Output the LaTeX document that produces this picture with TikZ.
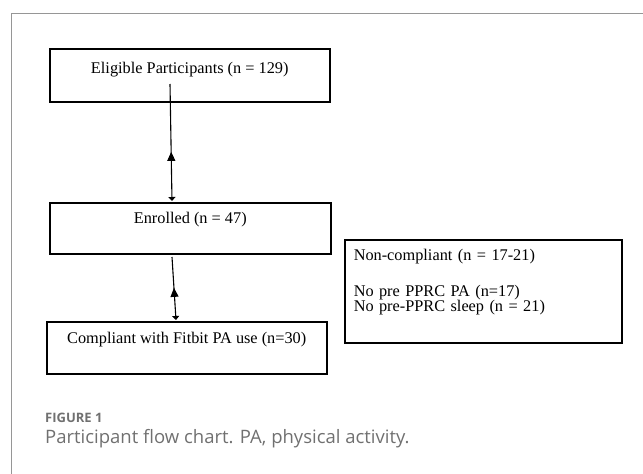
\documentclass[tikz,border=0pt]{standalone}
\usepackage{fontspec}
\setmainfont{Liberation Serif}
\newfontfamily\captionfont{Open Sans}
\usepackage{xcolor}
\usepackage{tikz}
\usetikzlibrary{arrows.meta, positioning, calc, decorations.markings}
\definecolor{framegray}{RGB}{150, 150, 150}
\definecolor{capgray}{RGB}{112, 112, 112}
\newcommand{\boxfont}{\fontsize{16.3}{14.2}\selectfont\setlength{\lineskiplimit}{-20pt}}

\begin{document}
\begin{tikzpicture}[x=1pt, y=-1pt,
    flowbox/.style={draw=black, line width=1.5pt, inner sep=0pt, anchor=north west, font=\boxfont},
    flowarrow/.style={line width=1.1pt, -{Triangle[width=7pt,length=4pt]},
        postaction={decorate},
        decoration={markings, mark=at position #1 with {\arrowreversed{Triangle[width=8pt,length=9pt]}}}},
    captext/.style={anchor=base west, inner sep=0pt, text=capgray}]
    \useasboundingbox (0,0) rectangle (643,474);

    % frame
    \draw[framegray, line width=1pt] (11,474) -- (11,13) -- (643,13);

    % boxes
    \node[flowbox, minimum width=280pt, text height=25pt, text depth=28pt] (elig) at (49,48) {Eligible Participants (n = 129)};
    \node[flowbox, minimum width=281pt, text height=21pt, text depth=30pt] (enr) at (49,202) {Enrolled (n = 47)};
    \node[flowbox, minimum width=280pt, text height=22pt, text depth=30pt] (comp) at (46,321) {Compliant with Fitbit PA use (n=30)};
    \node[flowbox, text width=259pt, inner xsep=9pt, align=left] (noncomp) at (344,239)
        {\rule{0pt}{21pt}Non-compliant (n = 17-21)\\[22pt]
         No pre PPRC PA (n=17)\\
         No pre-PPRC sleep (n = 21)\rule[-31.6pt]{0pt}{31.6pt}};

    % arrows
    \coordinate (eligout) at (170,84);
    \coordinate (enrin) at (172,201);
    \coordinate (enrout) at (172,257);
    \coordinate (compin) at (176,320);
    \draw[flowarrow=0.58] (eligout) -- (enrin);
    \draw[flowarrow=0.49] (enrout) -- (compin);

    % caption
    \node[captext, font=\captionfont\bfseries\fontsize{13}{15}\selectfont] (figlabel) at (45,422) {FIGURE 1};
    \node[captext, font=\captionfont\fontsize{18.5}{22}\selectfont] (figcaption) at (45,443) {Participant flow chart. PA, physical activity.};
\end{tikzpicture}
\end{document}
